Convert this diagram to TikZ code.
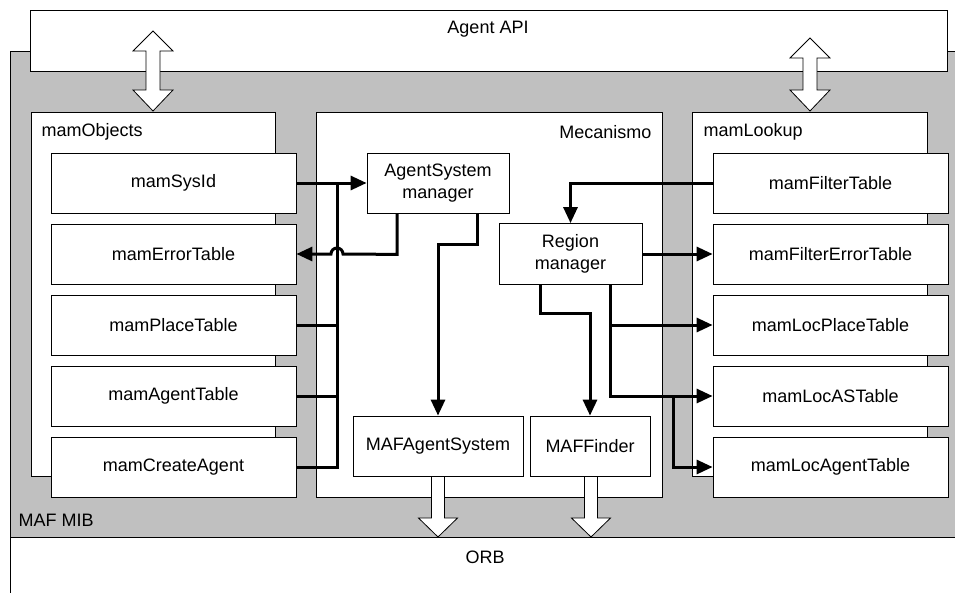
\documentclass[tikz,border=0pt]{standalone}
\usepackage{fontspec}
\setmainfont{Liberation Sans}
\usetikzlibrary{arrows.meta}
\definecolor{mibgray}{HTML}{C0C0C0}
\newcommand{\twowayarrow}[4]{%
  \draw[outline, fill=white] (#1,#2) -- (#1+20,#3) -- (#1+7,#3) -- (#1+7,#4-21) -- (#1+20,#4-21) -- (#1,#4)
    -- (#1-20,#4-21) -- (#1-7,#4-21) -- (#1-7,#3) -- (#1-20,#3) -- cycle;}
\newcommand{\hollowdown}[3]{%
  \draw[outline, fill=white] (#1-6.5,#2) -- (#1+6.5,#2) -- (#1+6.5,#3-19) -- (#1+19.5,#3-19) -- (#1,#3)
    -- (#1-19.5,#3-19) -- (#1-6.5,#3-19) -- cycle;}

\begin{document}
\begin{tikzpicture}[x=1pt, y=-1pt, every node/.style={font=\fontsize{18}{21.5}\selectfont},
  outline/.style={draw=black, line width=0.8pt},
  box/.style={outline, fill=white, align=center, inner sep=0pt, minimum height=60pt},
  leftbox/.style={box, minimum width=245pt},
  rightbox/.style={box, minimum width=235pt},
  conn/.style={line width=3pt},
  arr/.style={conn, -{Triangle[length=16pt,width=14pt]}}]

  \clip (0,0) rectangle (955,592);

  %% layers: MAF MIB, ORB, Agent API
  \draw[outline, fill=mibgray] (10,51) rectangle (970,537);
  \draw[outline, fill=white] (10,537) rectangle (970,610);
  \draw[outline, fill=white] (30,10) rectangle (947,71);
  \node (apilabel) at (488,29) {Agent API};
  \node (orblabel) at (485,557) {ORB};
  \node[anchor=west] (miblabel) at (15,520) {MAF MIB};

  \twowayarrow{153}{31}{51}{111}
  \twowayarrow{810}{38}{58}{111}

  %% panels
  \draw[outline, fill=white] (31,112) rectangle (275,476);
  \draw[outline, fill=white] (316,112) rectangle (662,497);
  \draw[outline, fill=white] (692,112) rectangle (927,476);
  \node[anchor=west] (objlabel) at (38,132) {mamObjects};
  \node[anchor=east] (mechlabel) at (655,132) {Mecanismo};
  \node[anchor=west] (lookuplabel) at (700,132) {mamLookup};

  \hollowdown{438}{476}{537}
  \hollowdown{591}{476}{537}

  %% mamObjects
  \node[leftbox] (sysid) at (173.5,183) {mamSysId};
  \node[leftbox] (errtab) at (173.5,254) {mamErrorTable};
  \node[leftbox] (placetab) at (173.5,325) {mamPlaceTable};
  \node[leftbox] (agenttab) at (173.5,396) {mamAgentTable};
  \node[leftbox] (createag) at (173.5,467) {mamCreateAgent};

  %% mamLookup
  \node[rightbox] (filtertab) at (830.5,183) {mamFilterTable};
  \node[rightbox] (filtererr) at (830.5,254) {mamFilterErrorTable};
  \node[rightbox] (locplace) at (830.5,325) {mamLocPlaceTable};
  \node[rightbox] (locas) at (830.5,396) {mamLocASTable};
  \node[rightbox] (locagent) at (830.5,467) {mamLocAgentTable};

  %% Mecanismo
  \node[box, minimum width=142pt] (asm) at (438,183) {AgentSystem\\manager};
  \node[box, minimum width=143pt, minimum height=61pt] (regman) at (570.5,254) {Region\\manager};
  \node[box, minimum width=170pt] (mafas) at (438,446) {MAFAgentSystem};
  \node[box, minimum width=120pt] (maffinder) at (590,446) {MAFFinder};

  \coordinate (lbus) at (337,183);
  \coordinate (rbus) at ([xshift=39.5pt]regman.south);
  \coordinate (rjoin) at (673,396);

  \draw[arr] (sysid.east) -- (asm.west);
  \draw[conn] (createag.east) -| (lbus);
  \draw[conn] (agenttab.east) -- (agenttab.east -| lbus);
  \draw[conn] (placetab.east) -- (placetab.east -| lbus);
  \draw[arr] ([xshift=-41pt]asm.south) -- ++(0,41) -- (343,254) arc (0:-180:6) -- (errtab.east);
  \draw[arr] ([xshift=39pt]asm.south) -- ++(0,31) -| (mafas.north);

  \draw[arr] (filtertab.west) -| (regman.north);
  \draw[arr] (regman.east) -- (filtererr.west);
  \draw[arr] ([xshift=-30.5pt]regman.south) -- ++(0,29) -| (maffinder.north);
  \draw[arr] (rbus) |- (locas.west);
  \draw[arr] (rbus |- locplace.west) -- (locplace.west);
  \draw[arr] (rjoin) |- (locagent.west);

\end{tikzpicture}
\end{document}
